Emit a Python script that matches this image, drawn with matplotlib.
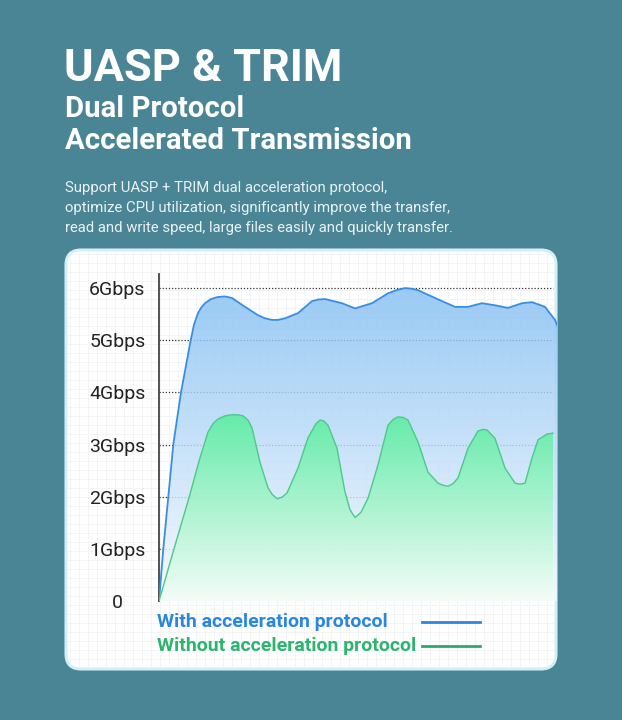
import numpy as np
import matplotlib
matplotlib.use("Agg")
import matplotlib.pyplot as plt
from matplotlib.patches import FancyBboxPatch
from matplotlib.colors import LinearSegmentedColormap

plt.rcParams['font.family'] = ['Roboto', 'DejaVu Sans']

# time axis in arbitrary units (0..398), speed in Gbps
with_x = [0, 4.3, 9.3, 14.3, 22, 31.7, 35, 39, 42, 46, 52, 59, 66, 73, 86, 99,
          106, 113, 119, 126, 139, 153, 159, 166, 183, 196, 213, 229, 239, 246,
          252, 259, 276, 296, 309, 323, 336, 349, 363, 373, 386, 396, 399]
with_y = [0, 1.0, 2.0, 3.0, 4.0, 5.0, 5.3, 5.52, 5.62, 5.71, 5.79, 5.83, 5.84,
          5.81, 5.64, 5.48, 5.42, 5.39, 5.39, 5.42, 5.52, 5.75, 5.78, 5.79,
          5.71, 5.61, 5.71, 5.90, 5.97, 6.0, 5.99, 5.96, 5.81, 5.64, 5.64,
          5.71, 5.67, 5.62, 5.71, 5.73, 5.64, 5.39, 5.25]

without_x = [0, 15, 30.3, 40.3, 49, 54, 59, 66, 73, 79, 84, 89, 93, 101, 109,
             113, 118, 123, 128, 139, 149, 157, 161, 165, 169, 178, 186, 191,
             196, 202, 209, 219, 229, 234, 239, 244, 249, 259, 269, 279, 284,
             289, 294, 299, 309, 319, 324, 328, 336, 346, 356, 361, 366, 373,
             379, 388, 394]
without_y = [0, 1.0, 2.0, 2.7, 3.24, 3.40, 3.49, 3.55, 3.57, 3.57, 3.55, 3.47,
             3.32, 2.66, 2.17, 2.05, 1.96, 1.99, 2.07, 2.55, 3.13, 3.40, 3.47,
             3.45, 3.37, 2.93, 2.09, 1.75, 1.60, 1.70, 1.97, 2.61, 3.37, 3.48,
             3.53, 3.52, 3.47, 3.05, 2.47, 2.26, 2.22, 2.20, 2.25, 2.36, 2.93,
             3.26, 3.29, 3.28, 3.12, 2.55, 2.26, 2.24, 2.26, 2.74, 3.09, 3.20,
             3.22]

ticks = [0, 1, 2, 3, 4, 5, 6]
tick_labels = ['0', '1Gbps', '2Gbps', '3Gbps', '4Gbps', '5Gbps', '6Gbps']

title = 'UASP & TRIM'
subtitle = ['Dual Protocol', 'Accelerated Transmission']
body = ['Support UASP + TRIM dual acceleration protocol,',
        'optimize CPU utilization, significantly improve the transfer,',
        'read and write speed, large files easily and quickly transfer.']
legend_labels = ['With acceleration protocol', 'Without acceleration protocol']

BG = '#4a8595'
BLUE_LINE = '#3a8ee2'
GREEN_LINE = '#4cc98a'
BLUE_TXT = '#2a86e0'
GREEN_TXT = '#2db46e'

fig = plt.figure(figsize=(6.22, 7.2), dpi=100)
fig.patch.set_facecolor(BG)

# background layer in pixel coordinates
bg = fig.add_axes([0, 0, 1, 1])
bg.set_xlim(0, 622)
bg.set_ylim(720, 0)
bg.axis('off')

card = FancyBboxPatch((66, 250), 490, 419, boxstyle='round,pad=0,rounding_size=15',
                      facecolor='white', edgecolor='#d3eff6', lw=2.2, zorder=1)
bg.add_patch(card)

# faint graph-paper grid on card
for gx in np.arange(70, 556, 9):
    bg.plot([gx, gx], [252, 667], color='#f1f5f8', lw=0.7, zorder=2, clip_path=card)
for gy in np.arange(254, 668, 9):
    bg.plot([68, 554], [gy, gy], color='#f1f5f8', lw=0.7, zorder=2, clip_path=card)

bg.text(64, 81, title, color='white', fontsize=32.5, fontweight='bold', va='baseline')
bg.text(65, 117, subtitle[0], color='white', fontsize=21.2, fontweight='bold', va='baseline')
bg.text(65, 149, subtitle[1], color='white', fontsize=21.2, fontweight='bold', va='baseline')
for i, line in enumerate(body):
    bg.text(65, 192 + 20 * i, line, color='#eaf2f4', fontsize=10.75, va='baseline')

bg.text(157, 627, legend_labels[0], color=BLUE_TXT, fontsize=14, fontweight='bold', va='baseline')
bg.text(157, 651, legend_labels[1], color=GREEN_TXT, fontsize=14, fontweight='bold', va='baseline')
bg.plot([422, 480], [622, 622], color='#2c86e0', lw=2)
bg.plot([422, 480], [646, 646], color='#2ba86a', lw=2)

# chart axes
ax = fig.add_axes([159 / 622, (720 - 601) / 720, 398 / 622, 327 / 720])
ax.patch.set_alpha(0)


def gradient_fill(x, y, top, bottom, ymax, alpha, z):
    x = np.asarray(x)
    y = np.asarray(y)
    poly = ax.fill_between(x, y, 0, color='none', lw=0)
    cmap = LinearSegmentedColormap.from_list('g', [bottom, top])
    grad = np.linspace(0, 1, 256).reshape(-1, 1)
    im = ax.imshow(grad, extent=[x.min(), x.max(), 0, ymax], origin='lower',
                   cmap=cmap, aspect='auto', alpha=alpha, zorder=z)
    im.set_clip_path(poly.get_paths()[0], transform=ax.transData)


ax.hlines(ticks, 0, without_x[-1], colors='#333333', linestyles=(0, (1, 1.5)),
          lw=0.9, zorder=1)

gradient_fill(with_x, with_y, '#84bff3', '#f6fafe', 6.0, 0.82, 2)
ax.plot(with_x, with_y, color=BLUE_LINE, lw=1.3, zorder=3, solid_joinstyle='round')
gradient_fill(without_x, without_y, '#55ee9c', '#f3fdf7', 3.57, 0.85, 4)
ax.plot(without_x, without_y, color=GREEN_LINE, lw=1.0, zorder=5, solid_joinstyle='round')

ax.set_xlim(0, 398)
ax.set_ylim(0, 6.27)
ax.set_yticks(ticks)
ax.set_yticklabels(tick_labels, fontsize=14, color='#222222')
for lab in ax.get_yticklabels():
    lab.set_horizontalalignment('center')
ax.tick_params(axis='y', length=0, pad=30)
ax.set_xticks([])
for s in ['top', 'right', 'bottom']:
    ax.spines[s].set_visible(False)
ax.spines['left'].set_color('#444444')
ax.spines['left'].set_linewidth(1.3)

fig.savefig('out.png', dpi=100, facecolor=BG)
